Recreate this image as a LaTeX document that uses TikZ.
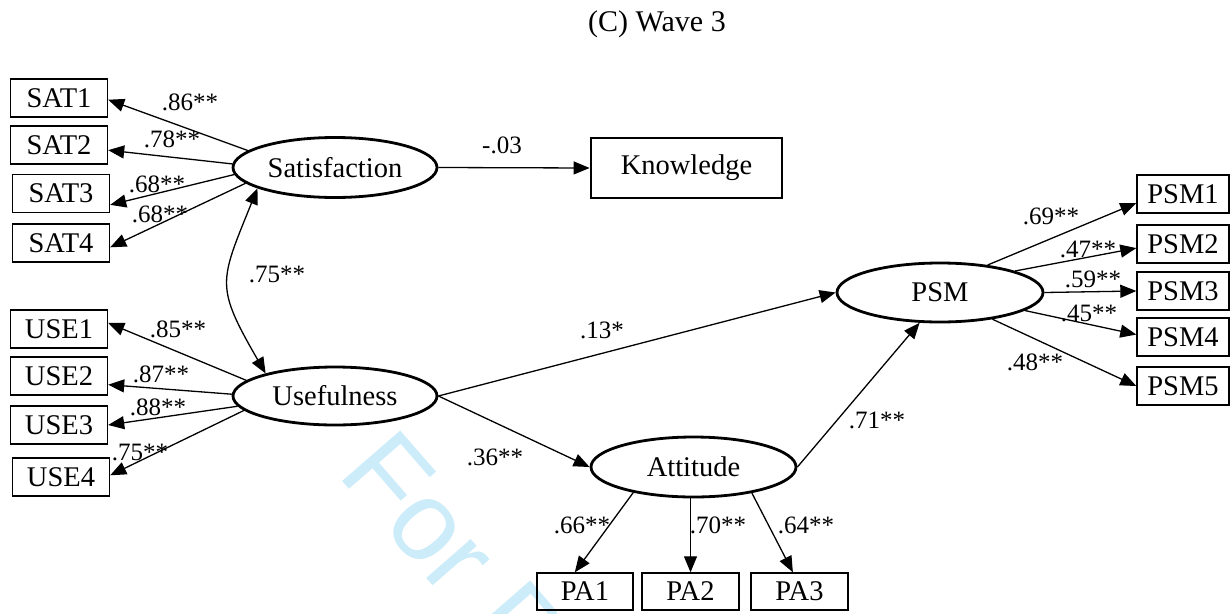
\documentclass[tikz,border=0pt]{standalone}
\usepackage{fontspec}
\setmainfont{Liberation Serif}
\newfontfamily\wmfont{Liberation Sans}
\usetikzlibrary{arrows.meta,shapes.geometric}
\definecolor{wmblue}{RGB}{205,236,250}
\begin{document}
\begin{tikzpicture}[x=1pt,y=-1pt,
  lat/.style={ellipse,draw,line width=2.8pt,inner sep=0pt,font=\fontsize{28.5}{34}\selectfont},
  ind/.style={rectangle,draw,line width=1.4pt,minimum width=97pt,minimum height=38pt,inner sep=0pt,font=\fontsize{28.5}{34}\selectfont},
  lab/.style={inner sep=0pt,font=\fontsize{25}{30}\selectfont},
  tip/.tip={Triangle[length=16pt,width=13pt]},
  conn/.style={line width=1.3pt,-tip},
]
\useasboundingbox (0,0) rectangle (1230,613);
% watermark
\begin{scope}
\clip (0,0) rectangle (1230,613);
\node[anchor=base west,rotate=-49,inner sep=0pt,text=wmblue,font=\wmfont\fontsize{112}{130}\selectfont] (wm) at (336,474) {For Peer Review};
\end{scope}

\node[font=\fontsize{30}{36}\selectfont,inner sep=0pt] (title) at (657,24) {(C) Wave 3};

% latent variables
\node[lat,minimum width=204pt,minimum height=60pt] (sat) at (335,167.5) {Satisfaction};
\node[lat,minimum width=204pt,minimum height=58pt] (use) at (335,396) {Usefulness};
\node[lat,minimum width=205pt,minimum height=60pt] (att) at (693.5,467) {Attitude};
\node[lat,minimum width=206pt,minimum height=59pt] (psm) at (940,292.5) {PSM};

% observed
\node[ind,line width=2.8pt,minimum width=191pt,minimum height=60pt] (know) at (686.5,168) {Knowledge};
\node[ind] (sat1) at (59,98) {SAT1};
\node[ind] (sat2) at (59,145) {SAT2};
\node[ind] (sat3) at (61,193.5) {SAT3};
\node[ind] (sat4) at (61,243) {SAT4};
\node[ind] (use1) at (59,329) {USE1};
\node[ind] (use2) at (59,376) {USE2};
\node[ind] (use3) at (59,425) {USE3};
\node[ind] (use4) at (61,477) {USE4};
\node[ind,minimum width=92pt] (psm1) at (1183,194) {PSM1};
\node[ind,minimum width=92pt] (psm2) at (1183,244) {PSM2};
\node[ind,minimum width=92pt] (psm3) at (1183,291) {PSM3};
\node[ind,minimum width=92pt] (psm4) at (1183,337) {PSM4};
\node[ind,minimum width=92pt] (psm5) at (1183,386) {PSM5};
\node[ind,minimum width=96pt,minimum height=37pt] (pa1) at (585,591.5) {PA1};
\node[ind,minimum height=37pt] (pa2) at (690.5,591.5) {PA2};
\node[ind,minimum height=37pt] (pa3) at (799.5,591.5) {PA3};

% connectors
\draw[conn] (sat.169) -- (sat1.-2);
\draw[conn] (sat.178) -- (sat2.-6);
\draw[conn] (sat.184) -- (sat3.-13);
\draw[conn] (sat.190) -- (sat4.-5);
\draw[conn] (use.170) -- (use1.7);
\draw[conn] (use.179) -- (use2.-10);
\draw[conn] (use.186) -- (use3.0);
\draw[conn] (use.189) -- (use4.2);
\draw[conn] (psm.30) -- (psm1.191);
\draw[conn] (psm.16) -- (psm2.185);
\draw[conn] (psm.east) -- (psm3.west);
\draw[conn] (psm.-12) -- (psm4.177);
\draw[conn] (psm.-27) -- (psm5.180);
\draw[conn] (sat.east) -- (know.west);
\draw[conn] (use.east) -- (psm.west);
\draw[conn] (use.east) -- (att.west);
\draw[conn] (att.east) -- (psm.236);
\draw[conn] (att.203) -- (pa1.118);
\draw[conn] (att.south -| pa2.north) -- (pa2.north);
\draw[conn] (att.-24) -- (pa3.109);
\draw[line width=1.3pt,tip-tip] (sat.195) to[out=248,in=120,looseness=1.4] (use.162);

% labels
\node[lab] (l1) at (190,102) {.86**};
\node[lab] (l2) at (172,139) {.78**};
\node[lab] (l3) at (157,184) {.68**};
\node[lab] (l4) at (160,214) {.68**};
\node[lab] (l5) at (277,274) {.75**};
\node[lab] (l6) at (178,329) {.85**};
\node[lab] (l7) at (161,374) {.87**};
\node[lab] (l8) at (158,407) {.88**};
\node[lab] (l9) at (140,452) {.75**};
\node[lab] (l10) at (502,145) {-.03};
\node[lab] (l11) at (602,330) {.13*};
\node[lab] (l12) at (495,457) {.36**};
\node[lab] (l13) at (877,420) {.71**};
\node[lab] (l14) at (1051,216) {.69**};
\node[lab] (l15) at (1088,249) {.47**};
\node[lab] (l16) at (1093,279) {.59**};
\node[lab] (l17) at (1089,313) {.45**};
\node[lab] (l18) at (1035,362) {.48**};
\node[lab] (l19) at (582,525) {.66**};
\node[lab] (l20) at (718,525) {.70**};
\node[lab] (l21) at (806,525) {.64**};
\end{tikzpicture}
\end{document}
